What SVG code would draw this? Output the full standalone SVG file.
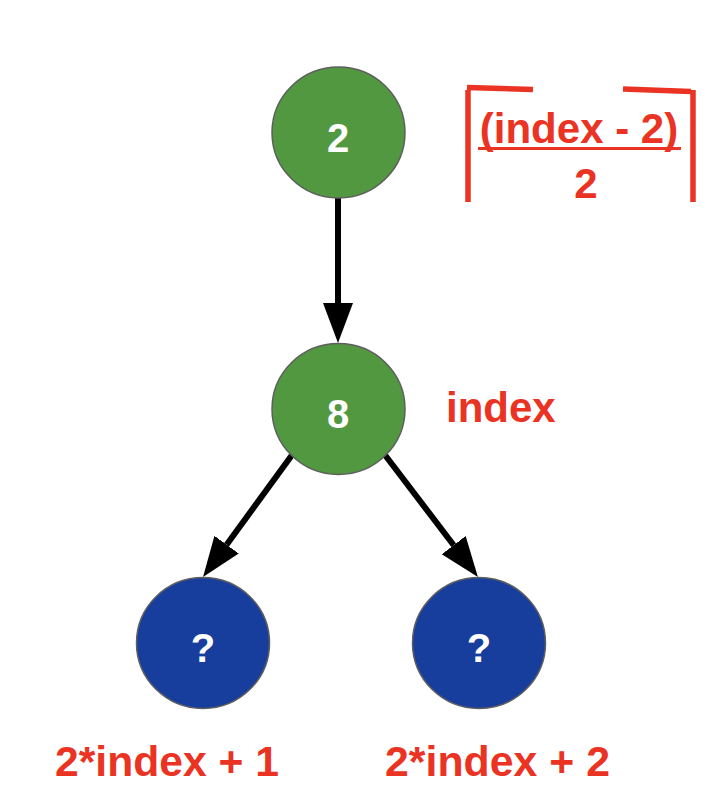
<svg xmlns="http://www.w3.org/2000/svg" width="716" height="800" viewBox="0 0 716 800">
<style>
.g{fill:#519840;stroke:#5e5e5e;stroke-width:1.5}
.b{fill:#183e9d;stroke:#5e5e5e;stroke-width:1.5}
.nt{font-family:"Liberation Sans",Arial,sans-serif;font-weight:bold;font-size:40px;fill:#ffffff;text-anchor:middle}
.rt{font-family:"Liberation Sans",Arial,sans-serif;font-weight:bold;font-size:42px;fill:#ea3323}
.br{stroke:#ea3323;stroke-width:5.5;fill:none}
.c{stroke:#000;stroke-width:6;fill:none}
</style>
<defs>
<marker id="ah" markerUnits="userSpaceOnUse" markerWidth="42" markerHeight="32" refX="0" refY="15" orient="auto">
<path d="M0,0 L40,15 L0,30 Z" fill="#000"/>
</marker>
</defs>
<g id="connectors">
<line class="c" x1="338" y1="198" x2="338" y2="303" marker-end="url(#ah)"/>
<line class="c" x1="292" y1="455" x2="226.6" y2="544.7" marker-end="url(#ah)"/>
<line class="c" x1="385" y1="455" x2="453.7" y2="545.2" marker-end="url(#ah)"/>
</g>
<g id="node-2">
<ellipse class="g" cx="338.5" cy="132.5" rx="66.5" ry="65.5"/>
<text class="nt" x="338" y="152">2</text>
</g>
<g id="node-8">
<ellipse class="g" cx="338.5" cy="409" rx="66.5" ry="65.5"/>
<text class="nt" x="338" y="428">8</text>
</g>
<g id="node-left">
<ellipse class="b" cx="203" cy="643" rx="66.5" ry="65.5"/>
<text class="nt" x="203" y="662">?</text>
</g>
<g id="node-right">
<ellipse class="b" cx="479" cy="643" rx="66.5" ry="65.5"/>
<text class="nt" x="479" y="662">?</text>
</g>
<g id="label-index">
<text class="rt" x="446" y="422">index</text>
</g>
<g id="label-left">
<text class="rt" x="55" y="776" font-size="44" textLength="224" lengthAdjust="spacingAndGlyphs">2*index + 1</text>
</g>
<g id="label-right">
<text class="rt" x="385" y="776" font-size="44" textLength="225" lengthAdjust="spacingAndGlyphs">2*index + 2</text>
</g>
<g id="formula">
<path class="br" d="M468,90 L468,202"/>
<path class="br" d="M467,87.5 L533,89.5"/>
<path class="br" d="M623,89 L691,91.5"/>
<path class="br" d="M693,90 L693,202"/>
<text class="rt" x="579" y="143" text-anchor="middle">(index - 2)</text>
<line x1="478" y1="148.5" x2="681" y2="148.5" stroke="#ea3323" stroke-width="3"/>
<text class="rt" x="586" y="198" text-anchor="middle">2</text>
</g>
</svg>
